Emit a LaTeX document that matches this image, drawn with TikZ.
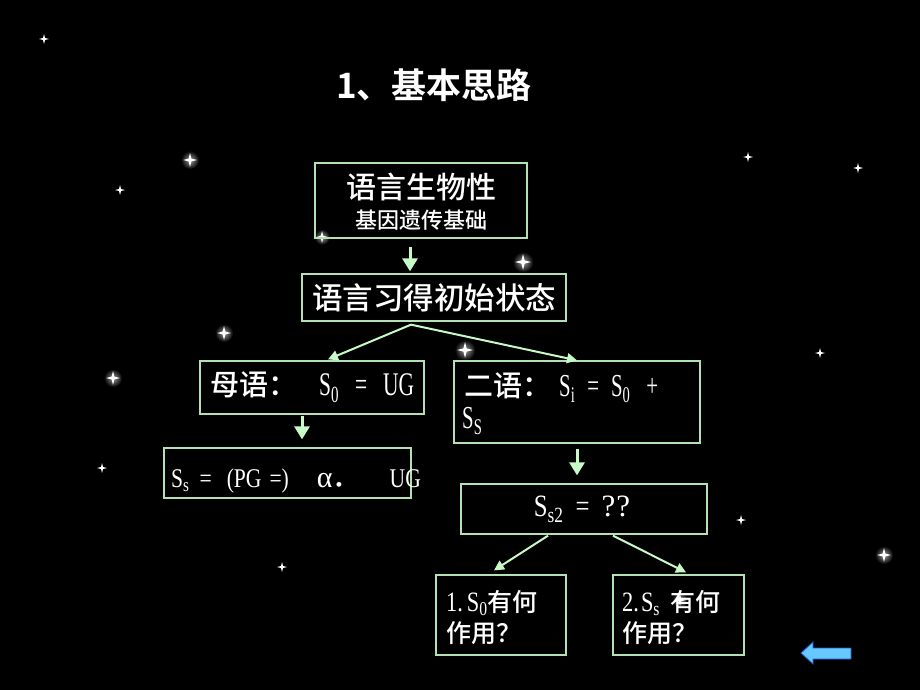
\documentclass[tikz,border=0pt]{standalone}
\usepackage{fontspec}
\setmainfont{Liberation Serif}
\newfontfamily\lat[FakeStretch=0.65]{Liberation Serif}
\newfontfamily\latw[FakeStretch=0.8]{Liberation Serif}
\newfontfamily\cjk{Noto Sans CJK SC Medium}
\newfontfamily\cjkb{Noto Sans CJK SC Bold}
\usetikzlibrary{arrows.meta,calc}
\definecolor{boxgreen}{RGB}{180,225,180}
\definecolor{arrgreen}{RGB}{200,250,200}
\definecolor{arrblue}{RGB}{102,200,255}
\definecolor{arrblueD}{RGB}{30,90,200}
\newcommand\sparkle[3]{\fill[white] ({#1-#3},#2) -- ({#1-0.2*#3},{#2-0.2*#3}) -- (#1,{#2-#3}) -- ({#1+0.2*#3},{#2-0.2*#3}) -- ({#1+#3},#2) -- ({#1+0.2*#3},{#2+0.2*#3}) -- (#1,{#2+#3}) -- ({#1-0.2*#3},{#2+0.2*#3}) -- cycle;}
\newcommand\glowstar[3]{\shade[inner color=gray!80,outer color=black] (#1,#2) circle ({1.3*#3});\sparkle{#1}{#2}{#3}}
\begin{document}
\begin{tikzpicture}[x=1pt,y=-1pt,
 box/.style={draw=boxgreen,line width=1.3pt,inner sep=0pt,text=white},
 txt/.style={text=white,inner sep=0pt},
 arr/.style={draw=arrgreen,line width=3pt,-{Triangle[length=13pt,width=15pt]}},
 thinarr/.style={draw=arrgreen,line width=2pt,-{Triangle[length=10pt,width=10pt]}}]
\fill[black] (0,0) rectangle (920,690);
\useasboundingbox (0,0) rectangle (920,690);
% stars
\sparkle{44}{39}{5}
\sparkle{120}{190}{5}
\glowstar{190}{160}{7}
\sparkle{748}{157}{5}
\sparkle{858}{168}{5}
\glowstar{322}{237}{6}
\glowstar{523}{262}{8}
\glowstar{224}{333}{7}
\glowstar{465}{350}{8}
\sparkle{820}{353}{5}
\glowstar{113}{378}{7}
\sparkle{102}{468}{5}
\sparkle{741}{520}{5}
\glowstar{884}{555}{7}
\sparkle{282}{567}{5}
% title
\node[txt,font=\cjkb\fontsize{35}{38}\selectfont] (title) at (434,85) {1、基本思路};
% boxes
\node[box,minimum width=212pt,minimum height=75pt] (b1) at (421,200.5) {};
\node[txt,font=\cjk\fontsize{30}{32}\selectfont] (t1a) at (421,187) {语言生物性};
\node[txt,font=\cjk\fontsize{22}{24}\selectfont] (t1b) at (421,220) {基因遗传基础};
\node[box,minimum width=264pt,minimum height=47pt,font=\cjk\fontsize{30.5}{32}\selectfont] (b2) at (434,297.5) {语言习得初始状态};
\node[box,minimum width=224pt,minimum height=53pt] (b3) at (312,387.5) {};
\node[txt,anchor=west,font=\lat\fontsize{33}{34}\selectfont] (t3) at (210,387) {{\cjk\fontsize{29}{30}\selectfont 母语：}\hspace{22pt}S\textsubscript{0}\hspace{16pt}=\hspace{16pt}UG};
\node[box,minimum width=246pt,minimum height=82pt] (b4) at (577,402) {};
\node[txt,anchor=west,font=\lat\fontsize{32}{34}\selectfont] (t4a) at (464,388) {{\cjk\fontsize{29}{30}\selectfont 二语：}\hspace{8pt}S\textsubscript{i}\hspace{12pt}=\hspace{12pt}S\textsubscript{0}\hspace{16pt}+};
\node[txt,anchor=west,font=\lat\fontsize{32}{34}\selectfont] (t4b) at (462,421) {S\textsubscript{S}};
\node[box,minimum width=247pt,minimum height=50pt] (b5) at (287.5,473) {};
\node[txt,anchor=west,font=\latw\fontsize{27}{30}\selectfont] (t5) at (171,481) {S\textsubscript{s}\hspace{10pt}=\hspace{15pt}(PG\hspace{8pt}=)\hspace{28pt}{\setmainfont{Liberation Serif}\selectfont\fontsize{30}{30}\selectfont α}{\cjk ．}\hspace{30pt}UG};
\node[box,minimum width=246pt,minimum height=50pt,font=\latw\fontsize{31}{32}\selectfont] (b6) at (584,509) {\hspace{-4pt}S\textsubscript{s2}\hspace{12pt}=\hspace{12pt}{\rmfamily\fontsize{31}{32}\selectfont ?\kern1pt?}};
\node[box,minimum width=130pt,minimum height=80pt] (b7) at (501,615) {};
\node[txt,anchor=west,font=\latw\fontsize{28}{30}\selectfont] (t7a) at (446,603) {1.\hspace{4pt}S\textsubscript{0}{\cjk\fontsize{25}{26}\selectfont 有何}};
\node[txt,anchor=west,font=\cjk\fontsize{25}{26}\selectfont] (t7b) at (446,633) {作用？};
\node[box,minimum width=131pt,minimum height=80pt] (b8) at (678.5,615) {};
\glowstar{680}{600}{6}
\node[txt,anchor=west,font=\latw\fontsize{28}{30}\selectfont] (t8a) at (622,603) {2.\hspace{2pt}S\textsubscript{s}\hspace{10pt}{\cjk\fontsize{25}{26}\selectfont 有何}};
\node[txt,anchor=west,font=\cjk\fontsize{25}{26}\selectfont] (t8b) at (622,633) {作用？};
% connectors
\draw[arr] ([xshift=-11pt,yshift=-8pt]b1.south) -- ([xshift=-24pt,yshift=2pt]b2.north);
\coordinate (fork) at ([xshift=-23pt,yshift=-3pt]b2.south);
\draw[thinarr] (fork) -- ([xshift=16pt,yshift=1pt]b3.north);
\draw[thinarr] (fork) -- (b4.north);
\draw[arr] ([xshift=-10pt,yshift=-1pt]b3.south) -- ([xshift=14.5pt,yshift=8pt]b5.north);
\draw[arr] ([yshift=-5pt]b4.south) -- ([xshift=-7pt,yshift=8pt]b6.north);
\draw[thinarr] ([xshift=-36pt,yshift=-1pt]b6.south) -- ([xshift=-7pt,yshift=4pt]b7.north);
\draw[thinarr] ([xshift=29pt,yshift=-1pt]b6.south) -- ([xshift=7.5pt,yshift=2pt]b8.north);
% back arrow
\filldraw[fill=arrblue,draw=arrblueD,line width=0.8pt] (801,653) -- (813,642) -- (813,648) -- (851,648) -- (851,659) -- (813,659) -- (813,664) -- cycle;
\end{tikzpicture}
\end{document}
